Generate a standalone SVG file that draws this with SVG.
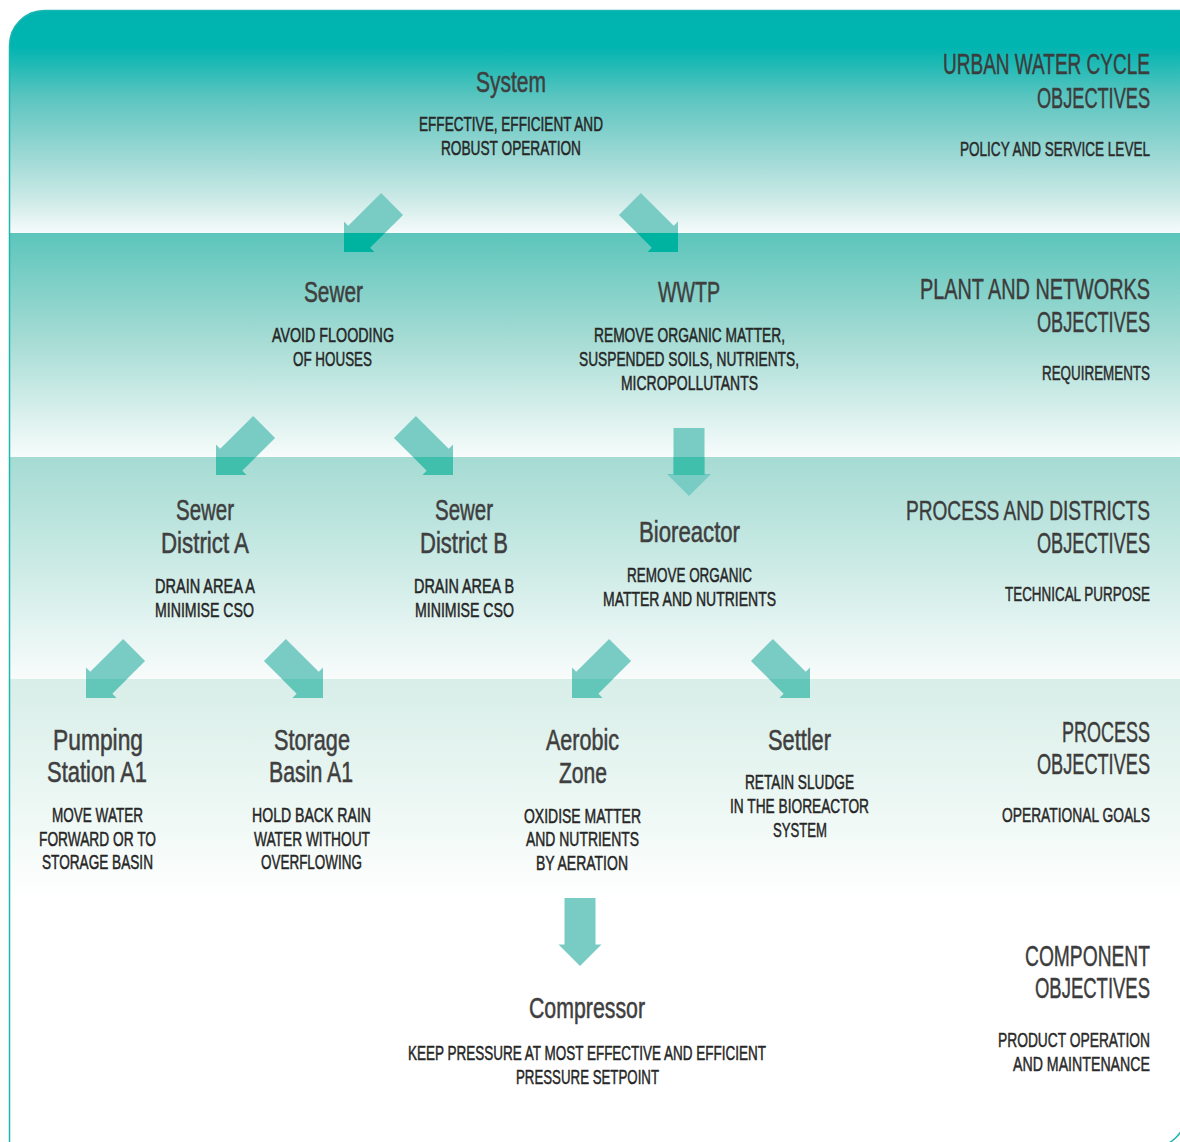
<svg xmlns="http://www.w3.org/2000/svg" xmlns:xlink="http://www.w3.org/1999/xlink" width="1180" height="1142" viewBox="0 0 1180 1142">
<style>
text{font-family:"Liberation Sans Narrow","Liberation Sans",Arial,sans-serif;}
.t{font-size:30px;fill:#3f3f3f;stroke:#3f3f3f;stroke-width:0.55px;}
.d{font-size:21px;fill:#262626;stroke:#262626;stroke-width:0.5px;}
.h{font-size:30px;fill:#3c3c3c;stroke:#3c3c3c;stroke-width:0.45px;}
.s{font-size:21px;fill:#2a2a2a;stroke:#2a2a2a;stroke-width:0.5px;}
.al{fill:#79ccc4;}
</style>
<defs>
<path id="arw" d="M-68,-15.5 L-21.5,-15.5 L-21.5,-21.5 L0,0 L-21.5,21.5 L-21.5,15.5 L-68,15.5 Z"/>
<path id="outer" d="M9.5,45.5 A35,35 0 0 1 44.5,10.5 L1200,10.5 L1200,1147.5 L9.5,1147.5 Z"/>
<clipPath id="oc"><use xlink:href="#outer"/></clipPath>
<clipPath id="st1"><rect x="0" y="233" width="1180" height="19"/></clipPath>
<clipPath id="st2"><rect x="0" y="457" width="1180" height="18"/></clipPath>
<clipPath id="st3"><rect x="0" y="679" width="1180" height="19"/></clipPath>
<linearGradient id="g1" x1="0" y1="0" x2="0" y2="1">
<stop offset="0" stop-color="#00b3af"/>
<stop offset="0.2" stop-color="#00b4b0"/>
<stop offset="0.42" stop-color="#5cc5c0"/>
<stop offset="0.64" stop-color="#95d6d2"/>
<stop offset="0.86" stop-color="#cdeae7"/>
<stop offset="1" stop-color="#f6fbfb"/>
</linearGradient>
<linearGradient id="g2" x1="0" y1="0" x2="0" y2="1">
<stop offset="0" stop-color="#5cc5bb"/>
<stop offset="0.5" stop-color="#a9ddd6"/>
<stop offset="1" stop-color="#f7fcfb"/>
</linearGradient>
<linearGradient id="g3" x1="0" y1="0" x2="0" y2="1">
<stop offset="0" stop-color="#a5dbd3"/>
<stop offset="0.5" stop-color="#cdebe6"/>
<stop offset="1" stop-color="#f8fcfb"/>
</linearGradient>
<linearGradient id="g4" x1="0" y1="0" x2="0" y2="1">
<stop offset="0" stop-color="#d8eee8"/>
<stop offset="0.6" stop-color="#eef8f5"/>
<stop offset="1" stop-color="#ffffff"/>
</linearGradient>
</defs>

<g id="background">
<rect width="1180" height="1142" fill="#ffffff"/>
<g clip-path="url(#oc)">
<rect x="0" y="0" width="1180" height="233" fill="url(#g1)"/>
<rect x="0" y="233" width="1180" height="224" fill="url(#g2)"/>
<rect x="0" y="457" width="1180" height="222" fill="url(#g3)"/>
<rect x="0" y="679" width="1180" height="222" fill="url(#g4)"/>
</g>
<path d="M9.5,1150 L9.5,45.5 A35,35 0 0 1 44.5,10.5 L1190,10.5" fill="none" stroke="#1db6b1" stroke-width="1.5"/>
<path d="M1186.5,1100 L1186.5,1112.5 A35,35 0 0 1 1151.5,1147.5" fill="none" stroke="#1db6b1" stroke-width="1.5"/>
</g>

<g id="connectors">
<g class="al">
<use xlink:href="#arw" transform="translate(344,252) rotate(135)"/>
<use xlink:href="#arw" transform="translate(678,252) rotate(45)"/>
<use xlink:href="#arw" transform="translate(216,475) rotate(135)"/>
<use xlink:href="#arw" transform="translate(453,475) rotate(45)"/>
<use xlink:href="#arw" transform="translate(689,496) rotate(90)"/>
<use xlink:href="#arw" transform="translate(86,698) rotate(135)"/>
<use xlink:href="#arw" transform="translate(323,698) rotate(45)"/>
<use xlink:href="#arw" transform="translate(572,698) rotate(135)"/>
<use xlink:href="#arw" transform="translate(810,698) rotate(45)"/>
<use xlink:href="#arw" transform="translate(580,966) rotate(90)"/>
</g>
<g clip-path="url(#st1)" fill="#00b3a0">
<use xlink:href="#arw" transform="translate(344,252) rotate(135)"/>
<use xlink:href="#arw" transform="translate(678,252) rotate(45)"/>
</g>
<g clip-path="url(#st2)" fill="#40bfad">
<use xlink:href="#arw" transform="translate(216,475) rotate(135)"/>
<use xlink:href="#arw" transform="translate(453,475) rotate(45)"/>
<use xlink:href="#arw" transform="translate(689,496) rotate(90)"/>
</g>
<g clip-path="url(#st3)" fill="#62c6b8">
<use xlink:href="#arw" transform="translate(86,698) rotate(135)"/>
<use xlink:href="#arw" transform="translate(323,698) rotate(45)"/>
<use xlink:href="#arw" transform="translate(572,698) rotate(135)"/>
<use xlink:href="#arw" transform="translate(810,698) rotate(45)"/>
</g>
</g>

<g id="levels" transform="scale(0.75 1)">
<g id="level-urban">
<text class="h" x="1257.33" y="74" textLength="276" lengthAdjust="spacingAndGlyphs" style="font-size:29px">URBAN WATER CYCLE</text>
<text class="h" x="1382.67" y="108" textLength="150.67" lengthAdjust="spacingAndGlyphs">OBJECTIVES</text>
<text class="s" x="1280" y="156" textLength="253.33" lengthAdjust="spacingAndGlyphs">POLICY AND SERVICE LEVEL</text>
</g>
<g id="level-plant">
<text class="h" x="1226.67" y="299" textLength="306.67" lengthAdjust="spacingAndGlyphs">PLANT AND NETWORKS</text>
<text class="h" x="1382.67" y="332" textLength="150.67" lengthAdjust="spacingAndGlyphs">OBJECTIVES</text>
<text class="s" x="1389.33" y="380" textLength="144" lengthAdjust="spacingAndGlyphs">REQUIREMENTS</text>
</g>
<g id="level-process-districts">
<text class="h" x="1208" y="520" textLength="325.33" lengthAdjust="spacingAndGlyphs" style="font-size:28px">PROCESS AND DISTRICTS</text>
<text class="h" x="1382.67" y="553" textLength="150.67" lengthAdjust="spacingAndGlyphs">OBJECTIVES</text>
<text class="s" x="1340" y="601" textLength="193.33" lengthAdjust="spacingAndGlyphs">TECHNICAL PURPOSE</text>
</g>
<g id="level-process">
<text class="h" x="1416" y="742" textLength="117.33" lengthAdjust="spacingAndGlyphs">PROCESS</text>
<text class="h" x="1382.67" y="774" textLength="150.67" lengthAdjust="spacingAndGlyphs">OBJECTIVES</text>
<text class="s" x="1336" y="822" textLength="197.33" lengthAdjust="spacingAndGlyphs">OPERATIONAL GOALS</text>
</g>
<g id="level-component">
<text class="h" x="1366.67" y="966" textLength="166.67" lengthAdjust="spacingAndGlyphs">COMPONENT</text>
<text class="h" x="1380" y="998" textLength="153.33" lengthAdjust="spacingAndGlyphs">OBJECTIVES</text>
<text class="s" x="1330.67" y="1047" textLength="202.67" lengthAdjust="spacingAndGlyphs">PRODUCT OPERATION</text>
<text class="s" x="1350.67" y="1071" textLength="182.67" lengthAdjust="spacingAndGlyphs">AND MAINTENANCE</text>
</g>
</g>

<g id="node-system" transform="scale(0.75 1)">
<text class="t" x="634.67" y="92" textLength="93.33" lengthAdjust="spacingAndGlyphs">System</text>
<text class="d" x="558.67" y="131" textLength="245.33" lengthAdjust="spacingAndGlyphs">EFFECTIVE, EFFICIENT AND</text>
<text class="d" x="588" y="155" textLength="186.67" lengthAdjust="spacingAndGlyphs">ROBUST OPERATION</text>
</g>
<g id="node-sewer" transform="scale(0.75 1)">
<text class="t" x="405.33" y="302" textLength="78.67" lengthAdjust="spacingAndGlyphs">Sewer</text>
<text class="d" x="362.67" y="342" textLength="162.67" lengthAdjust="spacingAndGlyphs">AVOID FLOODING</text>
<text class="d" x="390.67" y="366" textLength="105.33" lengthAdjust="spacingAndGlyphs">OF HOUSES</text>
</g>
<g id="node-wwtp" transform="scale(0.75 1)">
<text class="t" x="877.33" y="302" textLength="82.67" lengthAdjust="spacingAndGlyphs">WWTP</text>
<text class="d" x="792" y="342" textLength="254.67" lengthAdjust="spacingAndGlyphs">REMOVE ORGANIC MATTER,</text>
<text class="d" x="772" y="366" textLength="293.33" lengthAdjust="spacingAndGlyphs">SUSPENDED SOILS, NUTRIENTS,</text>
<text class="d" x="828" y="390" textLength="182.67" lengthAdjust="spacingAndGlyphs">MICROPOLLUTANTS</text>
</g>
<g id="node-district-a" transform="scale(0.75 1)">
<text class="t" x="234.67" y="520" textLength="77.33" lengthAdjust="spacingAndGlyphs">Sewer</text>
<text class="t" x="214.67" y="553" textLength="117.33" lengthAdjust="spacingAndGlyphs">District A</text>
<text class="d" x="206.67" y="593" textLength="133.33" lengthAdjust="spacingAndGlyphs">DRAIN AREA A</text>
<text class="d" x="206.67" y="617" textLength="132" lengthAdjust="spacingAndGlyphs">MINIMISE CSO</text>
</g>
<g id="node-district-b" transform="scale(0.75 1)">
<text class="t" x="580" y="520" textLength="77.33" lengthAdjust="spacingAndGlyphs">Sewer</text>
<text class="t" x="560" y="553" textLength="117.33" lengthAdjust="spacingAndGlyphs">District B</text>
<text class="d" x="552" y="593" textLength="133.33" lengthAdjust="spacingAndGlyphs">DRAIN AREA B</text>
<text class="d" x="553.33" y="617" textLength="132" lengthAdjust="spacingAndGlyphs">MINIMISE CSO</text>
</g>
<g id="node-bioreactor" transform="scale(0.75 1)">
<text class="t" x="852" y="542" textLength="134.67" lengthAdjust="spacingAndGlyphs">Bioreactor</text>
<text class="d" x="836" y="582" textLength="166.67" lengthAdjust="spacingAndGlyphs">REMOVE ORGANIC</text>
<text class="d" x="804" y="606" textLength="230.67" lengthAdjust="spacingAndGlyphs">MATTER AND NUTRIENTS</text>
</g>
<g id="node-pumping" transform="scale(0.75 1)">
<text class="t" x="70.67" y="750" textLength="120" lengthAdjust="spacingAndGlyphs">Pumping</text>
<text class="t" x="62.67" y="782" textLength="133.33" lengthAdjust="spacingAndGlyphs">Station A1</text>
<text class="d" x="69.33" y="822" textLength="121.33" lengthAdjust="spacingAndGlyphs">MOVE WATER</text>
<text class="d" x="52" y="846" textLength="156" lengthAdjust="spacingAndGlyphs">FORWARD OR TO</text>
<text class="d" x="56" y="869" textLength="148" lengthAdjust="spacingAndGlyphs">STORAGE BASIN</text>
</g>
<g id="node-storage" transform="scale(0.75 1)">
<text class="t" x="365.33" y="750" textLength="101.33" lengthAdjust="spacingAndGlyphs">Storage</text>
<text class="t" x="358.67" y="782" textLength="112" lengthAdjust="spacingAndGlyphs">Basin A1</text>
<text class="d" x="336" y="822" textLength="158.67" lengthAdjust="spacingAndGlyphs">HOLD BACK RAIN</text>
<text class="d" x="338.67" y="846" textLength="154.67" lengthAdjust="spacingAndGlyphs">WATER WITHOUT</text>
<text class="d" x="348" y="869" textLength="134.67" lengthAdjust="spacingAndGlyphs">OVERFLOWING</text>
</g>
<g id="node-aerobic" transform="scale(0.75 1)">
<text class="t" x="728" y="750" textLength="97.33" lengthAdjust="spacingAndGlyphs">Aerobic</text>
<text class="t" x="745.33" y="783" textLength="64" lengthAdjust="spacingAndGlyphs">Zone</text>
<text class="d" x="698.67" y="823" textLength="156" lengthAdjust="spacingAndGlyphs">OXIDISE MATTER</text>
<text class="d" x="701.33" y="846" textLength="150.67" lengthAdjust="spacingAndGlyphs">AND NUTRIENTS</text>
<text class="d" x="714.67" y="870" textLength="122.67" lengthAdjust="spacingAndGlyphs">BY AERATION</text>
</g>
<g id="node-settler" transform="scale(0.75 1)">
<text class="t" x="1024" y="750" textLength="84" lengthAdjust="spacingAndGlyphs">Settler</text>
<text class="d" x="993.33" y="789" textLength="145.33" lengthAdjust="spacingAndGlyphs">RETAIN SLUDGE</text>
<text class="d" x="973.33" y="813" textLength="185.33" lengthAdjust="spacingAndGlyphs">IN THE BIOREACTOR</text>
<text class="d" x="1030.67" y="837" textLength="72" lengthAdjust="spacingAndGlyphs">SYSTEM</text>
</g>
<g id="node-compressor" transform="scale(0.75 1)">
<text class="t" x="705.33" y="1018" textLength="154.67" lengthAdjust="spacingAndGlyphs">Compressor</text>
<text class="d" x="544" y="1060" textLength="477.33" lengthAdjust="spacingAndGlyphs">KEEP PRESSURE AT MOST EFFECTIVE AND EFFICIENT</text>
<text class="d" x="688" y="1084" textLength="190.67" lengthAdjust="spacingAndGlyphs">PRESSURE SETPOINT</text>
</g>
</svg>
